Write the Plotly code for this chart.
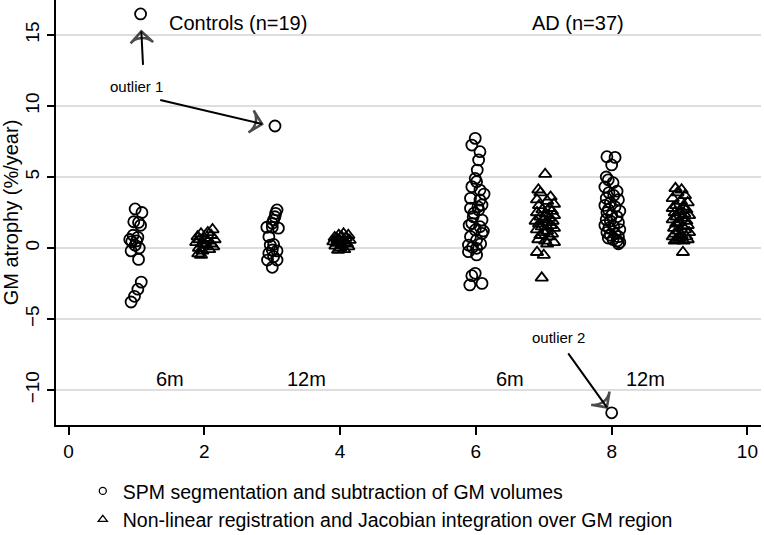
import plotly.graph_objects as go

# ---------------- data ----------------
# Controls, 6m, SPM (circles) around x=1
ctrl6_spm_x = [0.98, 1.08, 0.96, 1.06, 1.03, 0.90, 1.02, 0.93, 0.98, 0.92, 1.03, 1.07, 1.02, 0.97, 0.92, 1.06, 1.00, 0.95, 1.04]
ctrl6_spm_y = [2.75, 2.5, 1.85, 1.6, 1.8, 0.6, 0.75, 0.45, 0.2, -0.2, -0.8, -2.4, -2.9, -3.4, -3.8, 16.48, 0.5, 0.9, 0.0]
# Controls, 6m, Jacobian (triangles) around x=2
ctrl6_jac_x = [2.12, 2.05, 1.95, 2.10, 1.90, 2.00, 2.15, 1.93, 2.05, 1.88, 2.10, 1.97, 2.02, 2.13, 1.92, 2.07, 1.97, 1.91, 1.95]
ctrl6_jac_y = [1.3, 1.1, 1.0, 0.9, 0.8, 0.7, 0.6, 0.6, 0.5, 0.4, 0.3, 0.3, 0.2, 0.1, 0.0, -0.1, -0.2, -0.4, -0.5]
# Controls, 12m, SPM around x=3
ctrl12_spm_x = [3.07, 3.05, 3.04, 3.02, 3.00, 2.92, 3.00, 3.09, 2.95, 2.97, 3.02, 3.00, 3.07, 2.95, 3.02, 2.93, 3.07, 3.00, 3.04]
ctrl12_spm_y = [2.68, 2.44, 2.2, 1.97, 1.74, 1.46, 1.46, 1.4, 0.8, 0.21, 0.25, -0.14, -0.2, -0.37, -0.61, -0.85, -0.85, -1.36, 8.59]
# Controls, 12m, Jacobian around x=4
ctrl12_jac_x = [4.05, 3.98, 4.12, 4.02, 3.92, 4.08, 3.96, 4.14, 4.00, 3.90, 4.06, 3.95, 4.10, 4.02, 3.93, 4.12, 4.00, 4.06, 3.97]
ctrl12_jac_y = [1.0, 0.9, 0.9, 0.8, 0.75, 0.7, 0.6, 0.55, 0.5, 0.45, 0.4, 0.35, 0.3, 0.2, 0.15, 0.1, 0.0, -0.1, -0.15]
# AD, 6m, SPM around x=6
ad6_spm_x = [5.99, 5.94, 6.06, 6.04, 6.02, 5.99, 6.01, 5.94, 6.06, 5.92, 6.06, 6.09, 5.92, 6.04, 5.96, 6.09, 5.94, 6.06, 5.99,
             6.09, 5.92, 6.01, 5.89, 6.01, 5.89, 6.01, 5.99, 5.94, 6.09, 5.91, 6.12, 5.97, 6.11, 5.90, 6.07, 5.95, 6.03]
ad6_spm_y = [7.72, 7.25, 6.78, 6.2, 5.49, 4.9, 4.67, 4.32, 4.08, 3.5, 3.38, 3.03, 2.8, 2.68, 2.2, 1.97, 1.74, 1.5, 1.27,
             1.03, 0.8, 0.56, 0.21, -0.02, -0.26, -0.49, -1.78, -1.95, -2.49, -2.6, 3.8, 2.45, 1.2, 1.6, 0.3, 0.05, 2.9]
# AD, 6m, Jacobian around x=7
ad6_jac_x = [7.02, 6.92, 6.95, 7.10, 6.90, 7.05, 7.15, 6.93, 7.08, 6.98, 7.12, 6.90, 7.03, 7.15, 6.95, 7.08, 7.00, 6.88, 7.13,
             7.05, 6.93, 7.10, 6.97, 7.15, 6.90, 7.05, 7.00, 7.12, 6.95, 7.08, 6.92, 7.02, 7.15, 7.05, 6.90, 7.00, 6.97]
ad6_jac_y = [5.2, 4.1, 3.9, 3.6, 3.4, 3.3, 3.1, 3.0, 2.8, 2.7, 2.6, 2.5, 2.4, 2.3, 2.2, 2.1, 2.0, 1.9, 1.9,
             1.8, 1.7, 1.6, 1.5, 1.4, 1.3, 1.2, 1.1, 1.0, 0.9, 0.8, 0.6, 0.5, 0.4, 0.3, -0.3, -0.5, -2.1]
# AD, 12m, SPM around x=8
ad12_spm_x = [7.93, 8.05, 8.00, 7.92, 7.95, 8.02, 7.90, 8.08, 7.96, 8.03, 7.92, 8.10, 7.98, 7.90, 8.05, 7.95, 8.12, 7.93, 8.00,
              8.08, 7.92, 7.98, 8.10, 7.90, 8.03, 7.96, 8.12, 7.93, 8.05, 7.98, 8.10, 7.95, 8.02, 8.08, 8.12, 8.10, 8.00]
ad12_spm_y = [6.43, 6.38, 5.85, 5.0, 4.8, 4.6, 4.3, 4.0, 3.9, 3.7, 3.5, 3.4, 3.2, 3.0, 2.9, 2.7, 2.6, 2.5, 2.3,
              2.2, 2.0, 1.9, 1.8, 1.6, 1.5, 1.4, 1.3, 1.1, 1.0, 0.9, 0.8, 0.7, 0.6, 0.5, 0.4, 0.3, -11.6]
# AD, 12m, Jacobian around x=9
ad12_jac_x = [8.94, 9.03, 8.97, 9.08, 8.90, 9.02, 9.12, 8.95, 9.05, 8.90, 9.10, 9.00, 8.93, 9.07, 9.14, 8.96, 9.03, 8.90, 9.10,
              9.00, 8.95, 9.12, 9.05, 8.92, 9.08, 8.98, 9.14, 8.93, 9.03, 8.90, 9.10, 9.00, 8.96, 9.12, 8.93, 9.06, 9.05]
ad12_jac_y = [4.2, 4.1, 3.9, 3.7, 3.5, 3.3, 3.2, 3.0, 2.9, 2.8, 2.7, 2.6, 2.5, 2.4, 2.3, 2.2, 2.1, 2.0, 1.9,
              1.8, 1.7, 1.6, 1.5, 1.4, 1.3, 1.2, 1.1, 1.0, 0.9, 0.8, 0.8, 0.7, 0.6, 0.6, 0.5, 0.5, -0.3]

series_names = ["SPM segmentation and subtraction of GM volumes",
                "Non-linear registration and Jacobian integration over GM region"]
x_ticks = [0, 2, 4, 6, 8, 10]
y_ticks = [-10, -5, 0, 5, 10, 15]

group_labels = ["Controls (n=19)", "AD (n=37)"]
group_label_x = [2.5, 7.5]
time_labels = ["6m", "12m", "6m", "12m"]
time_label_x = [1.5, 3.5, 6.5, 8.5]

outlier_labels = ["outlier 1", "outlier 2"]
outlier_label_pos = [(1.0, 11.4), (7.22, -6.27)]
# arrows: (tail_x, tail_y, head_x, head_y)
arrows = [(1.096, 12.89, 1.071, 15.25),
          (1.35, 10.42, 2.85, 8.73),
          (7.36, -7.42, 7.93, -11.22)]

FONT = "Liberation Sans, Arial, sans-serif"

spm_x = ctrl6_spm_x + ctrl12_spm_x + ad6_spm_x + ad12_spm_x
spm_y = ctrl6_spm_y + ctrl12_spm_y + ad6_spm_y + ad12_spm_y
jac_x = ctrl6_jac_x + ctrl12_jac_x + ad6_jac_x + ad12_jac_x
jac_y = ctrl6_jac_y + ctrl12_jac_y + ad6_jac_y + ad12_jac_y

fig = go.Figure()
fig.add_trace(go.Scatter(x=spm_x, y=spm_y, mode="markers", showlegend=False, cliponaxis=False,
                         marker=dict(symbol="circle-open", size=11, color="black", line=dict(width=1.8))))
fig.add_trace(go.Scatter(x=jac_x, y=jac_y, mode="markers", showlegend=False,
                         marker=dict(symbol="triangle-up-open", size=11, color="black", line=dict(width=1.8))))
# legend-only entries (small symbols)
fig.add_trace(go.Scatter(x=[None], y=[None], mode="markers", name=series_names[0],
                         marker=dict(symbol="circle-open", size=7, color="black", line=dict(width=1.3))))
fig.add_trace(go.Scatter(x=[None], y=[None], mode="markers", name=series_names[1],
                         marker=dict(symbol="triangle-up-open", size=8, color="black", line=dict(width=1.3))))

for tx, ty, hx, hy in arrows:
    fig.add_trace(go.Scatter(x=[tx, hx], y=[ty, hy], mode="lines+markers", showlegend=False,
                             line=dict(color="black", width=2),
                             marker=dict(symbol=["circle", "arrow-wide-open"], size=[0, 16],
                                         angleref="previous", color="black",
                                         line=dict(width=2.6, color="black"))))

annotations = []
for t, x in zip(group_labels, group_label_x):
    annotations.append(dict(x=x, y=15.85, text=t, showarrow=False,
                            font=dict(family=FONT, size=20, color="black")))
for t, x in zip(time_labels, time_label_x):
    annotations.append(dict(x=x, y=-9.25, text=t, showarrow=False,
                            font=dict(family=FONT, size=20, color="black")))
for t, (x, y) in zip(outlier_labels, outlier_label_pos):
    annotations.append(dict(x=x, y=y, text=t, showarrow=False,
                            font=dict(family=FONT, size=15, color="black")))

fig.update_layout(
    width=764, height=535,
    margin=dict(l=56, r=3, t=0, b=110, autoexpand=False),
    plot_bgcolor="white", paper_bgcolor="white",
    font=dict(family=FONT, color="black"),
    annotations=annotations,
    legend=dict(x=0.038, y=-0.11, xanchor="left", yanchor="top",
                font=dict(family=FONT, size=19.5, color="black"),
                bgcolor="rgba(0,0,0,0)", itemsizing="trace", tracegroupgap=0),
    xaxis=dict(range=[-0.186, 10.2], tickvals=x_ticks, ticks="outside", ticklen=8, tickwidth=2,
               tickcolor="black", showline=True, linecolor="black", linewidth=2, automargin=False,
               showgrid=False, zeroline=False, tickfont=dict(size=19, family=FONT)),
    yaxis=dict(range=[-12.46, 17.46], tickvals=y_ticks, ticks="outside", ticklen=7, tickwidth=2,
               tickcolor="black", showline=True, linecolor="black", linewidth=2, automargin=False,
               showgrid=True, gridcolor="#dedede", gridwidth=1.5, zeroline=False,
               tickangle=-90, tickfont=dict(size=19, family=FONT),
               title=dict(text="GM atrophy (%/year)", font=dict(size=20, family=FONT), standoff=6)),
)

fig.write_html("out.html", config={"displayModeBar": False},
               post_script="document.body.style.margin='0';document.body.style.overflow='hidden';")
